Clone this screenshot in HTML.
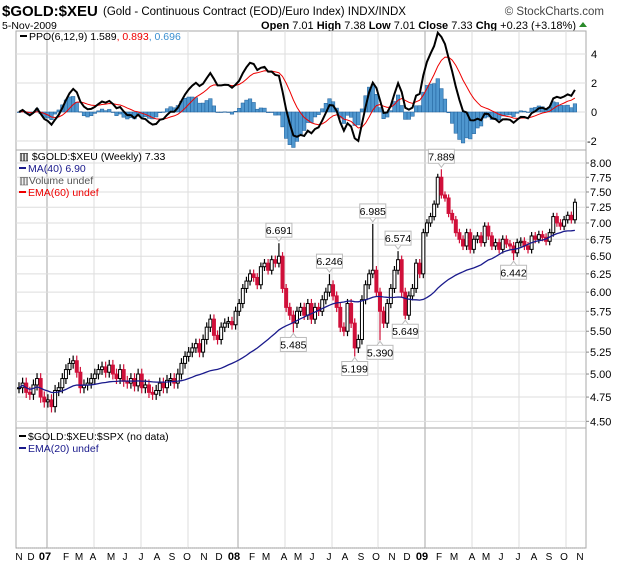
<!DOCTYPE html>
<html><head><meta charset="utf-8"><style>
html,body{margin:0;padding:0;background:#fff;}
body{width:620px;height:566px;overflow:hidden;font-family:"Liberation Sans",sans-serif;}
svg{display:block;}
</style></head><body>
<svg id="chart" width="620" height="566" xmlns="http://www.w3.org/2000/svg" font-family="Liberation Sans, sans-serif">
<text x="2" y="16" font-size="15" font-weight="bold">$GOLD:$XEU</text>
<text x="103" y="15" font-size="11.5">(Gold - Continuous Contract (EOD)/Euro Index) INDX/INDX</text>
<text x="604" y="15" font-size="11.5" fill="#444" text-anchor="end">© StockCharts.com</text>
<text x="2" y="29" font-size="10.5">5-Nov-2009</text>
<text x="576" y="29" font-size="11" text-anchor="end"><tspan font-weight="bold">Open</tspan> 7.01 <tspan font-weight="bold">High</tspan> 7.38 <tspan font-weight="bold">Low</tspan> 7.01 <tspan font-weight="bold">Close</tspan> 7.33 <tspan font-weight="bold">Chg</tspan> +0.23 (+3.18%)</text>
<path d="M579 27 L583 22 L587 27 Z" fill="#2a8a2a"/>
<g id="grid"></g><g id="marks"></g><g id="labels"></g>
</svg>
<script>
const closes=[4.85,4.90,4.80,4.78,4.88,4.95,4.75,4.70,
4.72,4.65,4.82,4.85,4.95,
5.05,5.12,5.15,5.02,
4.85,4.88,4.90,4.95,5.00,
5.05,5.08,5.02,5.10,
5.00,4.95,5.05,4.92,
4.90,4.95,4.87,5.00,4.85,
4.88,4.80,4.78,4.82,
4.90,4.85,4.93,4.95,
4.90,5.00,5.12,5.20,5.25,
5.30,5.35,5.25,5.40,
5.55,5.65,5.45,5.40,
5.55,5.60,5.62,5.58,5.75,
5.85,6.05,6.15,6.25,
6.20,6.10,6.35,6.40,
6.30,6.45,6.40,6.50,6.05,
5.80,5.70,5.60,5.75,5.80,
5.70,5.85,5.65,5.80,5.75,5.90,6.00,
6.10,5.95,5.80,5.55,5.50,
5.85,5.60,5.30,5.40,
5.90,6.10,6.25,6.30,
6.00,5.75,5.60,5.85,
6.05,6.30,6.45,
6.00,5.70,5.95,6.05,6.40,
6.25,6.85,7.00,7.10,
7.30,7.75,7.45,7.40,7.15,
7.05,6.85,6.75,6.65,6.85,
6.60,6.75,6.80,6.70,6.95,
6.80,6.65,6.70,6.60,6.75,
6.68,6.65,6.55,6.70,6.72,
6.65,6.60,6.80,6.75,6.82,
6.78,6.72,6.85,7.10,7.00,
6.95,7.05,7.12,7.05,7.33];
const annotIdx=[72,76,86,93,98,100,105,107,117,137];
const annotVal=[6.691,5.485,6.246,5.199,6.985,5.390,6.574,5.649,7.889,6.442];
const annotUp=[1,0,1,0,1,0,1,0,1,0];
const priceTicks=[8.00,7.75,7.50,7.25,7.00,6.75,6.50,6.25,6.00,5.75,5.50,5.25,5.00,4.75,4.50];
const ppoTicks=[4,2,0,-2];
const monthLabels=["N","D","07","F","M","A","M","J","J","A","S","O","N","D","08","F","M","A","M","J","J","A","S","O","N","D","09","F","M","A","M","J","J","A","S","O","N"];
const monthX=[19,31,45,66,79,93,111,125,141,157,172,187,204,219,234,252,266,284,298,312,329,345,361,376,392,407,422,439,454,472,486,501,518,534,549,564,580];

const NS="http://www.w3.org/2000/svg";
const L=16,R=586;
const X=i=>19+i*3.61;
const Y=v=>163+449*Math.log(8/v);
const PY=v=>112-v*14.5;
function mk(tag,attrs,parent){const e=document.createElementNS(NS,tag);for(const k in attrs)e.setAttribute(k,attrs[k]);parent.appendChild(e);return e;}
const grid=document.getElementById('grid'),marks=document.getElementById('marks'),labels=document.getElementById('labels');

[[31,150,'ppo-panel'],[150,428,'price-panel'],[428,548,'relative-panel']].forEach(p=>{
  const r=mk('rect',{x:L,y:p[0],width:R-L,height:p[1]-p[0],fill:'none',stroke:'#aaa','stroke-width':1},grid);
  
  
});
[47,94,141,188,238,285,332,378,425,472,519,566].forEach(x=>{
  const major=(x===47||x===238||x===425);
  [[31,150],[150,428],[428,548]].forEach(p=>{
    const l=mk('line',{x1:x,x2:x,y1:p[0],y2:p[1],stroke:major?'#bbb':'#ddd','stroke-width':major?1.3:1},grid);
    
    
  });
});
priceTicks.forEach(v=>{
  const l=mk('line',{x1:L,x2:R,y1:Y(v),y2:Y(v),stroke:'#ddd'},grid);
  
  
  mk('line',{x1:R,x2:R+3,y1:Y(v),y2:Y(v),stroke:'#888'},grid);
  const t=mk('text',{x:590,y:Y(v)+4,'font-size':11},labels);t.textContent=v.toFixed(2);
  
  
});
ppoTicks.forEach(v=>{
  const l=mk('line',{x1:L,x2:R,y1:PY(v),y2:PY(v),stroke:'#ddd'},grid);
  
  
  const t=mk('text',{x:v<0?587:591,y:PY(v)+4,'font-size':11},labels);t.textContent=String(v);
  
  
});
mk('line',{x1:L,x2:R,y1:548,y2:548,stroke:'#999','stroke-dasharray':'1,1'},grid);
monthLabels.forEach((m,k)=>{
  const yr=/\d/.test(m);
  const t=mk('text',{x:monthX[k],y:560,'font-size':yr?11:10,'font-weight':yr?'bold':'normal','text-anchor':'middle'},labels);
  t.textContent=m;
  
  
});

function ema(arr,n){const k=2/(n+1);const o=[];arr.forEach((v,i)=>o.push(i?v*k+o[i-1]*(1-k):v));return o;}
const e6=ema(closes,6),e12=ema(closes,12);
const ppo=closes.map((c,i)=>(e6[i]-e12[i])/e12[i]*100);
const sig=ema(ppo,9);
ppo.forEach((p,i)=>{
  const h=p-sig[i];const y0=PY(0),y1=PY(h);
  const b=mk('rect',{x:X(i)-1.8,y:Math.min(y0,y1),width:3.6,height:Math.max(0.5,Math.abs(y1-y0)),fill:'#4f97cf',stroke:'#1f5f9a','stroke-width':0.5},marks);
  
  
});
function line(vals,fy,color,w,name){
  const d=vals.map((v,i)=>(i?'L':'M')+X(i).toFixed(1)+' '+fy(v).toFixed(1)).join(' ');
  const p=mk('path',{d:d,fill:'none',stroke:color,'stroke-width':w},marks);
  
  
}
line(sig,PY,'#e00',1,'ppo-signal-line');
line(ppo,PY,'#000',2,'ppo-line');

closes.forEach((c,i)=>{
  const o=i?closes[i-1]:c;
  let hi=Math.max(o,c)+0.06,lo=Math.min(o,c)-0.06;
  const a=annotIdx.indexOf(i);
  if(a>=0){if(annotUp[a])hi=annotVal[a];else lo=annotVal[a];}
  const up=c>=o;const col=up?'#000':'#d0103a';
  const w=mk('line',{x1:X(i),x2:X(i),y1:Y(hi),y2:Y(lo),stroke:col,'stroke-width':1.2},marks);
  
  
  const yt=Y(Math.max(o,c)),yb=Y(Math.min(o,c));
  const b=mk('rect',{x:X(i)-1.5,y:yt,width:3,height:Math.max(1,yb-yt),fill:up?'#fff':col,stroke:col,'stroke-width':1},marks);
  
  
});
const ma=closes.map((c,i)=>{const s=closes.slice(Math.max(0,i-39),i+1);return s.reduce((a,b)=>a+b,0)/s.length;});
line(ma,Y,'#1a1a8c',1.3,'ma40-line');

annotIdx.forEach((idx,k)=>{
  const x=X(idx),v=annotVal[k],up=annotUp[k];
  const g=mk('g',{},labels);
  
  
  const yp=Y(v);const by=up?yp-20:yp+5;
  mk('rect',{x:x-13,y:by,width:26,height:14,fill:'#fff',stroke:'#bbb'},g);
  mk('path',{d:up?`M${x-3} ${by+14} L${x} ${by+18} L${x+3} ${by+14}`:`M${x-3} ${by} L${x} ${by-4} L${x+3} ${by}`,fill:'#fff',stroke:'#bbb'},g);
  const t=mk('text',{x:x,y:by+11,'font-size':10.5,'text-anchor':'middle'},g);t.textContent=v.toFixed(3);
});

function legend(x,y,txt,color,name,sw){
  if(sw)mk('rect',{x:x,y:y-5,width:7,height:2,fill:color},labels);
  const t=mk('text',{x:x+(sw?9:0),y:y,'font-size':10.5,fill:color},labels);t.textContent=txt;
  
  
  return t;
}
const pl=legend(20,40,'','#000','ppo-legend',true);
pl.innerHTML='PPO(6,12,9) 1.589<tspan fill="#e00">, 0.893</tspan><tspan fill="#3a8fd0">, 0.696</tspan>';
legend(19,160,'▥ $GOLD:$XEU (Weekly) 7.33','#000','price-legend',false);
legend(19,172,'MA(40) 6.90','#1a1a8c','ma40-legend',true);
legend(19,184,'▥Volume undef','#555','volume-legend',false);
legend(19,196,'EMA(60) undef','#e00','ema60-legend',true);
legend(19,440,'$GOLD:$XEU:$SPX (no data)','#000','relative-legend',true);
legend(19,452,'EMA(20) undef','#1a1a8c','ema20-legend',true);
</script>
</body></html>
